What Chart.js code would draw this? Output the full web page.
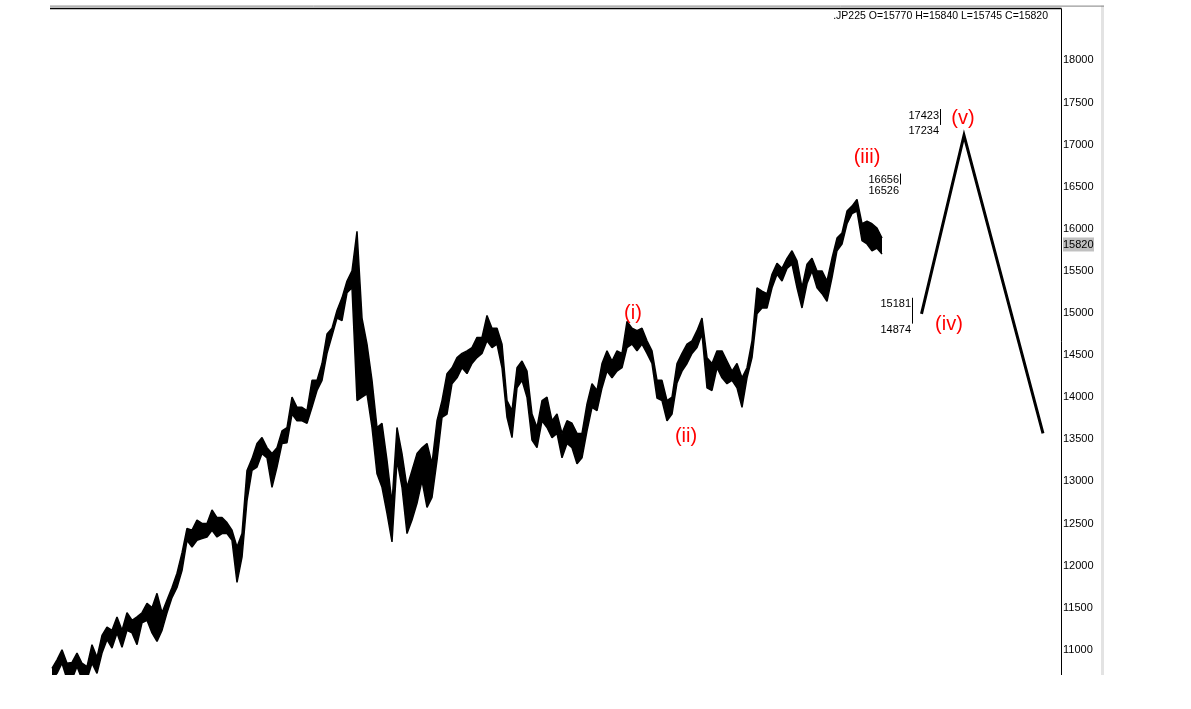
<!DOCTYPE html>
<html>
<head>
<meta charset="utf-8">
<title>JP225</title>
<script src="https://cdn.jsdelivr.net/npm/chart.js@4/dist/chart.umd.min.js"></script>
<style>
    html, body { margin: 0; padding: 0; background: #fff; }
    canvas { display: block; }
</style>
</head>
<body>
<canvas id="priceChart" width="1191" height="709"></canvas>
<script>
// ============================== DATA ==============================
// one sample every few sessions, high and low of the window
const highs = [10780, 10880, 11000, 10840, 10850, 10960, 10840, 10800, 11060, 10910,
    11170, 11270, 11230, 11390, 11230, 11440, 11350, 11390, 11440, 11550,
    11500, 11670, 11440, 11590, 11740, 11910, 12150, 12440, 12420, 12540,
    12500, 12500, 12660, 12570, 12570, 12510, 12420, 12220, 12380, 13130,
    13270, 13450, 13520, 13400, 13330, 13400, 13600, 13640, 14000, 13880,
    13880, 13840, 14200, 14200, 14400, 14750, 14820, 15030, 15180, 15380,
    15500, 15970, 14940, 14630, 14200, 13640, 13690, 13250, 12740, 13640,
    13330, 12930, 13130, 13330, 13400, 13450, 13210, 13720, 13960, 14280,
    14350, 14470, 14520, 14550, 14590, 14710, 14710, 14970, 14820, 14820,
    14630, 13960, 13840, 14350, 14430, 14310, 13800, 13640, 13960, 14000,
    13720, 13800, 13570, 13720, 13690, 13570, 13570, 13920, 14160, 14080,
    14400, 14550, 14430, 14550, 14520, 14900, 14820, 14790, 14820, 14670,
    14550, 14200, 14200, 13960, 14000, 14400, 14520, 14630, 14670, 14790,
    14940, 14470, 14400, 14550, 14550, 14430, 14310, 14400, 14230, 14350,
    14670, 15300, 15260, 15230, 15460, 15590, 15530, 15650, 15740, 15620,
    15300, 15580, 15650, 15500, 15500, 15380, 15650, 15890, 15950, 16210,
    16270, 16350, 16060, 16090, 16060, 16010, 15890];

const lows = [10650, 10720, 10840, 10650, 10650, 10800, 10650, 10650, 10840, 10720,
    10960, 11120, 11020, 11200, 11030, 11230, 11200, 11060, 11320, 11350,
    11200, 11100, 11230, 11440, 11620, 11740, 11940, 12300, 12220, 12300,
    12320, 12340, 12420, 12340, 12380, 12380, 12300, 11800, 12100, 12770,
    13130, 13170, 13330, 13280, 12930, 13170, 13450, 13460, 13800, 13720,
    13720, 13690, 13880, 14080, 14200, 14520, 14730, 14940, 14910, 15240,
    15300, 13960, 14000, 14040, 13640, 13090, 12930, 12620, 12280, 13250,
    12930, 12380, 12540, 12740, 13010, 12690, 12810, 13250, 13760, 13800,
    14160, 14230, 14350, 14280, 14400, 14470, 14520, 14670, 14590, 14630,
    14350, 13760, 13520, 14110, 14200, 14000, 13490, 13400, 13720, 13640,
    13520, 13570, 13280, 13450, 13400, 13210, 13280, 13600, 13880, 13840,
    14110, 14310, 14230, 14310, 14350, 14590, 14630, 14550, 14630, 14520,
    14400, 13990, 13960, 13720, 13800, 14170, 14310, 14400, 14520, 14590,
    14750, 14110, 14080, 14350, 14230, 14160, 14200, 14110, 13880, 14230,
    14470, 14990, 15060, 15060, 15300, 15460, 15380, 15530, 15580, 15300,
    15060, 15350, 15500, 15300, 15230, 15140, 15420, 15740, 15820, 16060,
    16180, 16210, 15860, 15820, 15740, 15770, 15700];

const yTicks = [11000, 11500, 12000, 12500, 13000, 13500, 14000, 14500,
    15000, 15500, 16000, 16500, 17000, 17500, 18000];

// last bar: open, high, low, close
const symbol = ".JP225";
const lastQuote = [15770, 15840, 15745, 15820];

// projected path (iv) -> (v) -> down
const projX = [173.9, 182.4, 198.2];
const projY = [14990, 17110, 13570];

// target zones
const targetX = [169.6, 177.6, 172.0];
const targetHi = [16656, 17423, 15181];
const targetLo = [16526, 17234, 14874];

// wave counts
const waveNames = ["(i)", "(ii)", "(iii)", "(iv)", "(v)"];
const waveX = [116.2, 126.8, 163.0, 179.4, 182.2];
const waveY = [15000, 13530, 16850, 14860, 17310];

// ============================== PLUGIN (frame + text) ==============================
const FONT = "'Liberation Sans', Arial, sans-serif";

const decorations = {
    id: "decorations",
    beforeDraw(chart) {
        const ctx = chart.ctx;
        const area = chart.chartArea;
        ctx.save();
        // grey outer frame
        ctx.fillStyle = "#e3e3e3";
        ctx.fillRect(area.right + 40, area.top - 3, 3, area.bottom - area.top + 3);
        ctx.strokeStyle = "#808080";
        ctx.lineWidth = 1;
        ctx.beginPath();
        ctx.moveTo(area.left, area.top - 2.5);
        ctx.lineTo(area.right + 43, area.top - 2.5);
        ctx.stroke();
        // black top line and axis line
        ctx.strokeStyle = "#000";
        ctx.lineWidth = 1.5;
        ctx.beginPath();
        ctx.moveTo(area.left, area.top);
        ctx.lineTo(area.right + 0.5, area.top);
        ctx.stroke();
        ctx.lineWidth = 1;
        ctx.beginPath();
        ctx.moveTo(area.right + 0.5, area.top);
        ctx.lineTo(area.right + 0.5, area.bottom);
        ctx.stroke();
        ctx.restore();
    },
    afterDraw(chart) {
        const ctx = chart.ctx;
        const area = chart.chartArea;
        const xs = chart.scales.x;
        const ys = chart.scales.y;
        ctx.save();

        // header quote
        ctx.font = "10.5px " + FONT;
        ctx.fillStyle = "#000";
        ctx.textAlign = "right";
        ctx.textBaseline = "middle";
        const header = symbol + " O=" + lastQuote[0] + " H=" + lastQuote[1] +
            " L=" + lastQuote[2] + " C=" + lastQuote[3];
        ctx.fillText(header, area.right - 13, area.top + 8);

        // target zones
        ctx.font = "11px " + FONT;
        ctx.textBaseline = "top";
        for (let i = 0; i < targetX.length; i++) {
            const px = Math.round(xs.getPixelForValue(targetX[i])) + 0.5;
            const yHi = ys.getPixelForValue(targetHi[i]);
            const yLo = ys.getPixelForValue(targetLo[i]);
            ctx.strokeStyle = "#000";
            ctx.lineWidth = 1;
            ctx.beginPath();
            ctx.moveTo(px, yHi);
            ctx.lineTo(px, yLo);
            ctx.stroke();
            ctx.fillText(String(targetHi[i]), px - 1.5, yHi + 1);
            ctx.fillText(String(targetLo[i]), px - 1.5, yLo + 1);
        }

        // wave labels
        ctx.font = "20px " + FONT;
        ctx.fillStyle = "#ff0000";
        ctx.textAlign = "center";
        ctx.textBaseline = "middle";
        for (let i = 0; i < waveNames.length; i++) {
            ctx.fillText(waveNames[i], xs.getPixelForValue(waveX[i]), ys.getPixelForValue(waveY[i]));
        }

        // last close marker on the axis
        const close = lastQuote[3];
        const yc = ys.getPixelForValue(close);
        ctx.fillStyle = "#c0c0c0";
        ctx.fillRect(area.right + 2, yc - 6.5, 31, 14);
        ctx.font = "11px " + FONT;
        ctx.fillStyle = "#000";
        ctx.textAlign = "left";
        ctx.fillText(String(close), area.right + 2, yc + 0.5);
        ctx.restore();
    }
};

// ============================== CHART ==============================
function toPoints(values) {
    return values.map((v, i) => ({ x: i, y: v }));
}

function createChart() {
    const ctx = document.getElementById("priceChart").getContext("2d");
    return new Chart(ctx, {
        type: "line",
        data: {
            datasets: [
                {
                    label: "High",
                    data: toPoints(highs),
                    borderColor: "#000",
                    backgroundColor: "#000",
                    borderWidth: 1.5,
                    borderJoinStyle: "bevel",
                    pointRadius: 0,
                    fill: "+1"
                },
                {
                    label: "Low",
                    data: toPoints(lows),
                    borderColor: "#000",
                    borderWidth: 1.5,
                    borderJoinStyle: "bevel",
                    pointRadius: 0,
                    fill: false
                },
                {
                    label: "Projection",
                    data: projX.map((x, i) => ({ x: x, y: projY[i] })),
                    borderColor: "#000",
                    borderWidth: 3,
                    pointRadius: 0,
                    fill: false
                }
            ]
        },
        options: {
            responsive: false,
            animation: false,
            layout: { padding: { left: 50, top: 7, right: 0, bottom: 34 } },
            plugins: {
                legend: { display: false },
                tooltip: { enabled: false }
            },
            scales: {
                x: { type: "linear", display: false, min: -0.4, max: 201.8 },
                y: {
                    position: "right",
                    min: 10700,
                    max: 18616,
                    afterBuildTicks: scale => { scale.ticks = yTicks.map(v => ({ value: v })); },
                    afterFit: scale => { scale.width = 130; },
                    grid: { display: false, drawTicks: false },
                    border: { display: false },
                    ticks: {
                        padding: 2,
                        color: "#000",
                        font: { family: FONT, size: 11 },
                        callback: v => String(v)
                    }
                }
            }
        },
        plugins: [decorations]
    });
}

window.addEventListener("DOMContentLoaded", () => {
    createChart();
});
</script>
</body>
</html>
